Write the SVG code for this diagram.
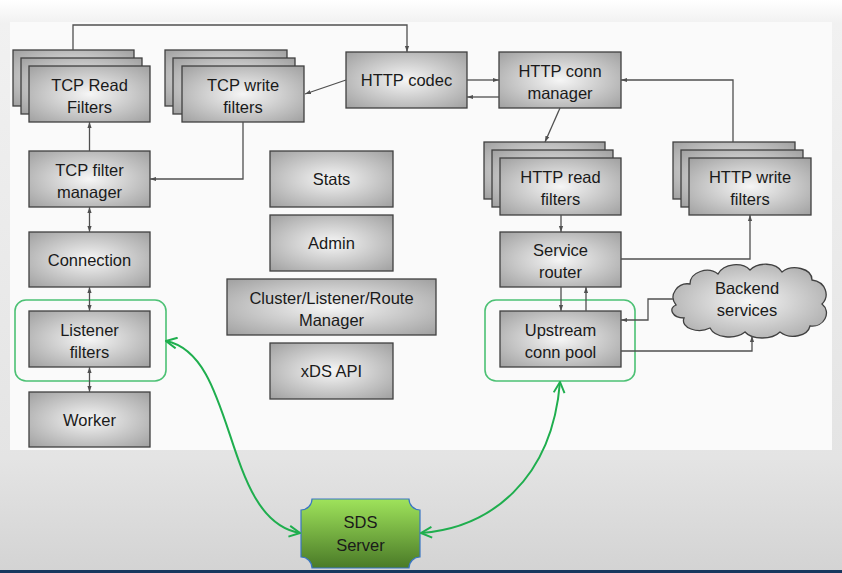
<svg xmlns="http://www.w3.org/2000/svg" width="842" height="573" viewBox="0 0 842 573">
<defs>
<linearGradient id="bg" x1="0" y1="0" x2="0" y2="573" gradientUnits="userSpaceOnUse">
<stop offset="0" stop-color="#ffffff"/>
<stop offset="0.04" stop-color="#f1f1f1"/>
<stop offset="0.8" stop-color="#e4e4e4"/>
<stop offset="1" stop-color="#d3d3d3"/>
</linearGradient>
<radialGradient id="box" cx="0.5" cy="0.5" r="0.75">
<stop offset="0" stop-color="#f6f6f6"/>
<stop offset="1" stop-color="#9a9a9a"/>
</radialGradient>
<linearGradient id="sds" x1="0" y1="0" x2="0" y2="1">
<stop offset="0" stop-color="#9fe35b"/>
<stop offset="1" stop-color="#4a7a27"/>
</linearGradient>
<marker id="a" viewBox="0 0 10 10" refX="10" refY="5" markerWidth="6" markerHeight="6" orient="auto-start-reverse" markerUnits="userSpaceOnUse">
<path d="M0,1.5 L10,5 L0,8.5 z" fill="#505050"/>
</marker>
<marker id="g" viewBox="0 0 12 12" refX="11" refY="6" markerWidth="13" markerHeight="13" orient="auto-start-reverse" markerUnits="userSpaceOnUse">
<path d="M1,1 L11,6 L1,11" fill="none" stroke="#1fae4e" stroke-width="1.8"/>
</marker>
</defs>
<style>
.b{fill:url(#box);stroke:#404040;stroke-width:1.3}
.t{font-family:"Liberation Sans",Arial,sans-serif;font-size:16.5px;fill:#1a1a1a;text-anchor:middle}
.c{fill:none;stroke:#505050;stroke-width:1.3}
.ca{fill:none;stroke:#505050;stroke-width:1.3;marker-end:url(#a)}
.cd{fill:none;stroke:#505050;stroke-width:1.3;marker-start:url(#a);marker-end:url(#a)}
.gr{fill:none;stroke:#4cc174;stroke-width:1.6}
.ga{fill:none;stroke:#1fae4e;stroke-width:2;marker-start:url(#g);marker-end:url(#g)}
</style>
<rect x="0" y="0" width="842" height="573" fill="url(#bg)"/>
<rect x="10" y="22" width="822" height="428" fill="#fafafa"/>
<rect x="0" y="570" width="842" height="3" fill="#17375e"/>

<g id="tcp-read-filters">
<rect class="b" x="13" y="50" width="121" height="56"/>
<rect class="b" x="21" y="58" width="121" height="56"/>
<rect class="b" x="29" y="66" width="121" height="56"/>
<text class="t" x="89.5" y="90.5">TCP Read</text>
<text class="t" x="89.5" y="112.5">Filters</text>
</g>
<g id="tcp-write-filters">
<rect class="b" x="165" y="50" width="122" height="56"/>
<rect class="b" x="173" y="58" width="122" height="56"/>
<rect class="b" x="182" y="66" width="122" height="56"/>
<text class="t" x="243" y="90.5">TCP write</text>
<text class="t" x="243" y="112.5">filters</text>
</g>
<g id="http-codec">
<rect class="b" x="346" y="52" width="121" height="56"/>
<text class="t" x="406.5" y="86">HTTP codec</text>
</g>
<g id="http-conn-manager">
<rect class="b" x="499" y="52" width="122" height="56"/>
<text class="t" x="560" y="76.5">HTTP conn</text>
<text class="t" x="560" y="98.5">manager</text>
</g>
<g id="http-read-filters">
<rect class="b" x="484" y="142" width="121" height="57"/>
<rect class="b" x="492" y="150" width="121" height="57"/>
<rect class="b" x="500" y="158" width="121" height="57"/>
<text class="t" x="560.5" y="183">HTTP read</text>
<text class="t" x="560.5" y="205">filters</text>
</g>
<g id="http-write-filters">
<rect class="b" x="673" y="142" width="122" height="57"/>
<rect class="b" x="681" y="150" width="122" height="57"/>
<rect class="b" x="689" y="158" width="122" height="57"/>
<text class="t" x="750" y="183">HTTP write</text>
<text class="t" x="750" y="205">filters</text>
</g>
<g id="tcp-filter-manager">
<rect class="b" x="29" y="151" width="121" height="56"/>
<text class="t" x="89.5" y="175.5">TCP filter</text>
<text class="t" x="89.5" y="197.5">manager</text>
</g>
<g id="stats">
<rect class="b" x="270" y="151" width="123" height="56"/>
<text class="t" x="331.5" y="185">Stats</text>
</g>
<g id="admin">
<rect class="b" x="270" y="215" width="123" height="56"/>
<text class="t" x="331.5" y="249">Admin</text>
</g>
<g id="connection">
<rect class="b" x="29" y="232" width="121" height="55"/>
<text class="t" x="89.5" y="265.5">Connection</text>
</g>
<g id="service-router">
<rect class="b" x="500" y="232" width="121" height="55"/>
<text class="t" x="560.5" y="256">Service</text>
<text class="t" x="560.5" y="278">router</text>
</g>
<g id="cluster-manager">
<rect class="b" x="227" y="279" width="209" height="56"/>
<text class="t" x="331.5" y="303.5">Cluster/Listener/Route</text>
<text class="t" x="331.5" y="325.5">Manager</text>
</g>
<g id="listener-filters">
<rect class="gr" x="15" y="300" width="151" height="81" rx="11"/>
<rect class="b" x="29" y="311" width="121" height="56"/>
<text class="t" x="89.5" y="335.5">Listener</text>
<text class="t" x="89.5" y="357.5">filters</text>
</g>
<g id="upstream-conn-pool">
<rect class="gr" x="485" y="300" width="150" height="81" rx="11"/>
<rect class="b" x="500" y="311" width="121" height="56"/>
<text class="t" x="560.5" y="335.5">Upstream</text>
<text class="t" x="560.5" y="357.5">conn pool</text>
</g>
<g id="xds-api">
<rect class="b" x="270" y="343" width="123" height="56"/>
<text class="t" x="331.5" y="377">xDS API</text>
</g>
<g id="worker">
<rect class="b" x="29" y="392" width="121" height="55"/>
<text class="t" x="89.5" y="425.5">Worker</text>
</g>
<g id="backend-services">
<path class="b" d="M676,305 C668,295 678,282 690,284 C690,272 708,266 718,274 C724,263 742,262 750,270 C758,262 776,262 782,272 C792,264 812,268 812,280 C826,282 830,296 822,304 C832,312 824,328 810,326 C808,336 790,340 780,332 C772,340 752,340 745,332 C735,340 715,338 710,328 C698,334 680,328 684,318 C672,318 668,308 676,305 Z"/>
<text class="t" x="747" y="294">Backend</text>
<text class="t" x="747" y="316">services</text>
</g>
<g id="sds-server">
<path d="M312,499 L409,499 A11,11 0 0 0 420,510 L420,557 A11,11 0 0 0 409,568 L312,568 A11,11 0 0 0 301,557 L301,510 A11,11 0 0 0 312,499 Z" fill="url(#sds)" stroke="#3a76c4" stroke-width="1.2"/>
<text class="t" x="360.5" y="528" font-size="17">SDS</text>
<text class="t" x="360.5" y="551" font-size="17">Server</text>
</g>

<g id="connectors">
<path class="ca" d="M73,50 V25 H407 V52"/>
<path class="ca" d="M346,80 L305,94"/>
<path class="ca" d="M243,122 V179 H150"/>
<path class="ca" d="M89.5,151 V122"/>
<path class="cd" d="M89.5,207 V232"/>
<path class="cd" d="M89.5,287 V311"/>
<path class="cd" d="M89.5,367 V392"/>
<path class="ca" d="M467,80 H499"/>
<path class="ca" d="M499,97 H467"/>
<path class="ca" d="M560,108 L545,142"/>
<path class="ca" d="M733,142 V80 H621"/>
<path class="ca" d="M561,215 V232"/>
<path class="ca" d="M621,259 H750 V215"/>
<path class="ca" d="M561,287 V311"/>
<path class="ca" d="M586,311 V287"/>
<path class="ca" d="M673,299 H648 V320 H621"/>
<path class="ca" d="M621,351 H752 V336"/>
<path class="ga" d="M166,341 C238,355 222,520 300,533"/>
<path class="ga" d="M560,382 C552,480 490,528 421,533"/>
</g>
</svg>
